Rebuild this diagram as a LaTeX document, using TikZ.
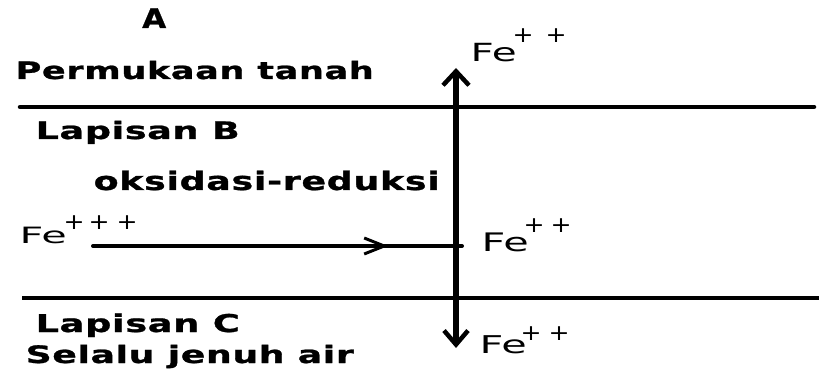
\documentclass[tikz,border=0pt]{standalone}
\usepackage{fontspec}
\usepackage{graphicx}
\usetikzlibrary{arrows.meta,decorations.markings}
\newfontfamily\labfont[LetterSpace=2,FakeBold=1]{DejaVu Sans Bold}
\newfontfamily\fefont{DejaVu Sans}
% bold label: width, font size, text
\newcommand{\labtext}[3]{\resizebox{#1pt}{\height}{\labfont\fontsize{#2pt}{#2pt}\selectfont #3}}
% Fe symbol: width, font size
\newcommand{\fesym}[2]{\resizebox{#1pt}{\height}{\fefont\fontsize{#2pt}{#2pt}\selectfont Fe}}
% charge sign: raise
\newcommand{\chg}[1]{\raisebox{#1pt}{\resizebox{21pt}{\height}{\fefont\fontsize{22pt}{22pt}\selectfont +}}}
\begin{document}
\begin{tikzpicture}[x=1pt,y=-1pt,
  lab/.style={anchor=base west,inner sep=0pt},
  ion/.style={anchor=base west,inner sep=0pt},
  layer/.style={line width=4.5pt},
  flow/.style={line width=5.5pt,{Straight Barb[length=14pt,width=24pt,line width=4.5pt]}-{Straight Barb[length=14pt,width=26pt,line width=4.5pt]}},
  redox/.style={line width=4pt,line cap=round,
    postaction={decorate,decoration={markings,mark=at position 0.8 with {\arrow[line width=3pt]{Straight Barb[length=20pt,width=16pt]}}}}}]
\useasboundingbox (0,0) rectangle (819,379);
\fill[white] (0,0) rectangle (819,379);
% labels
\node[lab] (a) at (142,28) {\labtext{24}{27}{A}};
\node[lab] (surf) at (15.5,79) {\labtext{358}{24}{Permukaan tanah}};
\node[lab] (lb) at (35.5,139) {\labtext{204}{24}{Lapisan B}};
\node[lab] (redoxlab) at (93.5,190) {\labtext{346}{25.5}{oksidasi-reduksi}};
\node[lab] (lc) at (35.5,332) {\labtext{204}{24.5}{Lapisan C}};
\node[lab] (jenuh) at (25.5,363) {\labtext{328}{24}{Selalu jenuh air}};
% ions
\node[ion] (fe3) at (19.5,244) {\fesym{47}{22.5}\hspace{-3pt}\chg{14}\hspace{4pt}\chg{14}\hspace{7pt}\chg{14}};
\node[ion] (fetop) at (470.5,62) {\fesym{46}{25}\hspace{-4pt}\chg{19}\hspace{12pt}\chg{19}};
\node[ion] (femid) at (481.5,252) {\fesym{47}{25.5}\hspace{-5pt}\chg{19}\hspace{6pt}\chg{19}};
\node[ion] (febot) at (479.5,353) {\fesym{47}{24.5}\hspace{-6pt}\chg{13}\hspace{7pt}\chg{13}};
% layer boundaries
\coordinate (t1) at (20,107);
\coordinate (t2) at (814,107);
\coordinate (b1) at (22,298);
\coordinate (b2) at (819,298);
\draw[layer,line cap=round] (t1) -- (t2);
\draw[layer] (b1) -- (b2);
% vertical movement
\coordinate (vtop) at (456,68);
\coordinate (vbot) at (456,348);
\draw[flow] (vbot) -- (vtop);
% horizontal redox arrow
\coordinate (hstart) at (93,246);
\coordinate (hend) at (462,246);
\draw[redox] (hstart) -- (hend);
\end{tikzpicture}
\end{document}
